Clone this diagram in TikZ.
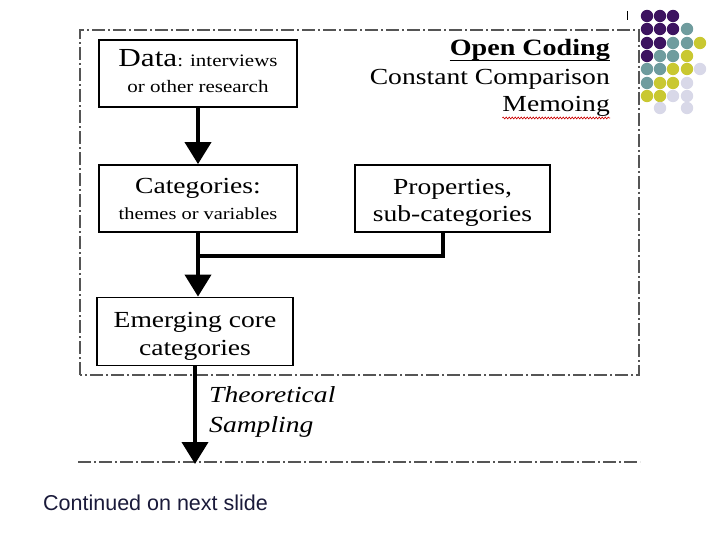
\documentclass[tikz,border=0pt]{standalone}
\usepackage{fontspec}
\setmainfont{Liberation Serif}[FakeStretch=1.2]
\newfontfamily\slidesans{Liberation Sans}
\usetikzlibrary{arrows.meta,decorations.pathmorphing}
\definecolor{dotP}{HTML}{3D1360}
\definecolor{dotT}{HTML}{6F9C9E}
\definecolor{dotY}{HTML}{C9C831}
\definecolor{dotL}{HTML}{D8D8E8}
\definecolor{frameg}{HTML}{555555}
\definecolor{slidetext}{HTML}{1A1A3A}
\tikzset{
  box/.style={draw=black, line width=1.8pt, fill=white, inner sep=0pt},
  boxtext/.style={align=center, inner sep=0pt},
  flow/.style={line width=4pt, -{Triangle[length=22pt,width=26pt]}},
  plainflow/.style={line width=4pt},
  frame/.style={draw=frameg, line width=1.6pt, dash pattern=on 13pt off 3pt on 2pt off 3pt},
  big/.style={font=\fontsize{23}{27}\selectfont},
}
\begin{document}
\begin{tikzpicture}[x=1pt,y=-1pt]
\useasboundingbox (0,0) rectangle (720,540);
\fill[white] (0,0) rectangle (720,540);

% dashed frames
\draw[frame] (80,375) -- (80,30) -- (639,30) -- (639,375) -- cycle;
\draw[frame] (78,462) -- (640,462);
\draw[black, line width=1pt] (627,11) -- (627,20);

% dots
\foreach \c/\x/\y in {dotP/647/16,dotP/660/16,dotP/673/16,
  dotP/647/29,dotP/660/29,dotP/673/29,dotT/687/29,
  dotP/647/43,dotP/660/43,dotT/673/43,dotT/687/43,dotY/700/43,
  dotP/647/56,dotT/660/56,dotT/673/56,dotY/687/56,
  dotT/647/69,dotT/660/69,dotY/673/69,dotY/687/69,dotL/700/69,
  dotT/647/83,dotY/660/83,dotY/673/83,dotL/687/83,
  dotY/647/96,dotY/660/96,dotL/673/96,dotL/687/96,
  dotL/660/108,dotL/687/108}
  \fill[\c] (\x,\y) circle (6.2pt);

% boxes
\node[box, minimum width=198pt, minimum height=67pt] (data) at (198,73.5) {};
\node[box, minimum width=198pt, minimum height=67pt] (cat) at (198,198.5) {};
\node[box, minimum width=195pt, minimum height=67pt] (prop) at (452.5,198.5) {};
\node[box, minimum width=196pt, minimum height=68pt] (emerg) at (195,331.5) {};

\node[boxtext, anchor=base, font=\fontsize{17.5}{26}\selectfont] (datat) at (198,93)
  {{\fontsize{26}{26}\selectfont Data}: interviews\\or other research};
\node[boxtext, anchor=base, font=\fontsize{17}{26}\selectfont] (catt) at (198,219.5)
  {{\fontsize{23}{26}\selectfont Categories:}\\themes or variables};
\node[boxtext, anchor=base, font=\fontsize{23}{27}\selectfont] (propt) at (452.5,222)
  {Properties,\\sub-categories};
\node[boxtext, anchor=base, font=\fontsize{23}{28}\selectfont] (emergt) at (195,355)
  {Emerging core\\categories};

% header texts
\node[anchor=base east, inner sep=0pt, font=\fontsize{23.4}{27}\selectfont\bfseries] (oc) at (610,56) {Open Coding};
\draw[line width=1.6pt] ([yshift=-4.5pt]oc.base west) -- ([yshift=-4.5pt]oc.base east);
\node[anchor=base east, inner sep=0pt, big] (cc) at (610,85) {Constant Comparison};
\node[anchor=base east, inner sep=0pt, big] (memo) at (610,112) {Memoing};
\draw[red!80!black, line width=0.6pt, decorate, decoration={snake, amplitude=1pt, segment length=3pt}]
  ([yshift=-6pt]memo.base west) -- ([yshift=-6pt]memo.base east);

% connectors
\coordinate (junc) at (198,256);
\coordinate (bottomtip) at (195,464);
\draw[flow] (data.south) -- (cat.north);
\draw[flow] (cat.south) -- (cat.south |- emerg.north);
\draw[plainflow] ([xshift=-9.5pt]prop.south) |- (junc);
\draw[flow] (emerg.south) -- (bottomtip);

\node[anchor=north west, align=left, inner sep=0pt, font=\fontsize{23}{30}\selectfont\itshape] (ts) at (209,386)
  {Theoretical\\Sampling};

\node[anchor=base west, inner sep=0pt, text=slidetext, font=\slidesans\fontsize{21.5}{24}\selectfont] (cont) at (43,510)
  {Continued on next slide};
\end{tikzpicture}
\end{document}
